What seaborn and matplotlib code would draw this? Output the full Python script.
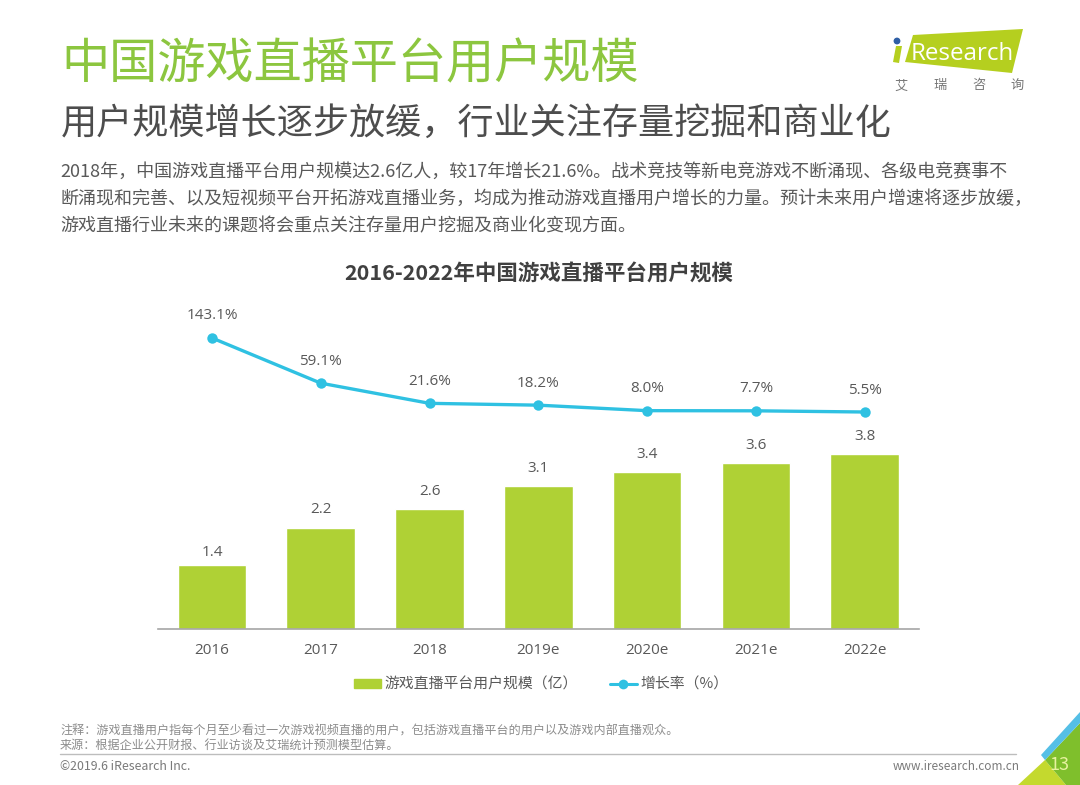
#plot.py

import numpy as np
import pandas as pd
import matplotlib.pyplot as plt
from matplotlib.patches import Polygon, Circle
from matplotlib.lines import Line2D
from matplotlib.patches import Patch
import seaborn as sns

years = ['2016', '2017', '2018', '2019e', '2020e', '2021e', '2022e']
users = [1.4, 2.2, 2.6, 3.1, 3.4, 3.6, 3.8]
growth = [143.1, 59.1, 21.6, 18.2, 8.0, 7.7, 5.5]

page_title = '中国游戏直播平台用户规模'
page_subtitle = '用户规模增长逐步放缓，行业关注存量挖掘和商业化'
body_lines = [
    '2018年，中国游戏直播平台用户规模达2.6亿人，较17年增长21.6%。战术竞技等新电竞游戏不断涌现、各级电竞赛事不',
    '断涌现和完善、以及短视频平台开拓游戏直播业务，均成为推动游戏直播用户增长的力量。预计未来用户增速将逐步放缓，',
    '游戏直播行业未来的课题将会重点关注存量用户挖掘及商业化变现方面。',
]
chart_title = '2016-2022年中国游戏直播平台用户规模'
bar_name = '游戏直播平台用户规模（亿）'
line_name = '增长率（%）'
note_lines = [
    '注释：游戏直播用户指每个月至少看过一次游戏视频直播的用户，包括游戏直播平台的用户以及游戏内部直播观众。',
    '来源：根据企业公开财报、行业访谈及艾瑞统计预测模型估算。',
]

GREEN = '#afd135'
BLUE = '#2fc1e2'
GREY = '#595959'
W, H = 1080, 785
NUM_FONT = ['Open Sans', 'Noto Sans CJK SC']

sns.set_theme(style='white')
plt.rcParams['font.family'] = ['Noto Sans CJK SC', 'DejaVu Sans']

fig = plt.figure(figsize=(W / 100, H / 100), dpi=100, facecolor='white')

#page layer in pixel coordinates, for the slide furniture
page = fig.add_axes([0, 0, 1, 1])
page.set_xlim(0, W)
page.set_ylim(H, 0)
page.axis('off')

page.text(61, 65, page_title, fontsize=34.7, color='#8cc63f', va='center')
page.text(61, 124, page_subtitle, fontsize=26, color='#4d4d4d', va='center')
for y, line in zip([172, 199, 226], body_lines):
    page.text(60, y, line, fontsize=13, color=GREY, va='center')
page.text(539, 274, chart_title, fontsize=15.5, color='#404040', weight='bold', ha='center', va='center')

#logo
page.add_patch(Polygon([(913, 35), (1023, 29), (1012, 73), (905, 62)], color='#b5cf1f', lw=0))
page.add_patch(Polygon([(896, 46), (902, 46), (899, 63), (893, 62)], color='#b5cf1f', lw=0))
page.add_patch(Circle((897, 41), 3.4, color='#2f5fa5', lw=0))
page.text(911, 54, 'Research', fontsize=17.4, color='white', va='center', family=['Open Sans', 'DejaVu Sans'])
for x, ch in zip([901, 940, 979, 1017], '艾瑞咨询'):
    page.text(x, 86, ch, fontsize=9.5, color='#777777', ha='center', va='center')

#footer
for y, line in zip([731, 746], note_lines):
    page.text(60, y, line, fontsize=8.7, color='#8c8c8c', va='center')
page.plot([60, 1016], [754, 754], color='#bdbdbd', lw=1)
page.text(60, 766, '©2019.6 iResearch Inc.', fontsize=8.9, color='#7a7a7a', va='center')
page.text(1020, 766, 'www.iresearch.com.cn', fontsize=8.5, color='#7a7a7a', ha='right', va='center')

#corner decoration
page.add_patch(Polygon([(1018, 785), (1045, 760), (1066, 785)], color='#c4d92e', lw=0))
page.add_patch(Polygon([(1045, 760), (1080, 723), (1080, 785), (1066, 785)], color='#7fbf2c', lw=0))
page.add_patch(Polygon([(1041, 755), (1080, 712), (1080, 723), (1045, 760)], color='#55bfe6', lw=0))
page.text(1059, 765, '13', fontsize=13, color='#e8f2a0', ha='center', va='center')

#chart axes, placed so the baseline and the bars land on the picture
left, right, top, bottom = 157.6, 919.0, 300.0, 629.0
ax = fig.add_axes([left / W, 1 - bottom / H, (right - left) / W, (bottom - top) / H])
ax.patch.set_alpha(0)

df = pd.DataFrame({'year': years, 'users': users, 'growth': growth})
sns.barplot(data=df, x='year', y='users', color=GREEN, saturation=1, width=0.63, ax=ax)
ax.set_xlim(-0.5, 6.5)
ax.set_ylim(0, (bottom - top) / 46.05)
ax.set_xlabel('')
ax.set_ylabel('')
ax.set_yticks([])
ax.tick_params(axis='x', length=0, labelsize=11, labelcolor=GREY, pad=10)
for lab in ax.get_xticklabels():
    lab.set_family(NUM_FONT)
sns.despine(ax=ax, left=True)
ax.spines['bottom'].set_color('#a6a6a6')
ax.spines['bottom'].set_linewidth(1.2)

#gap between bar top and its label, in pixels
bar_label_gaps = [12, 18, 17.5, 18, 18, 17.5, 17.5]
for i, v in enumerate(users):
    ax.annotate(f'{v:.1f}', (i, v), xytext=(0, bar_label_gaps[i] * 0.72), textcoords='offset points',
                ha='center', va='center', fontsize=11, color=GREY, family=NUM_FONT)

#growth rate on its own scale above the bars
ax2 = ax.twinx()
ax2.patch.set_alpha(0)
sns.lineplot(x=np.arange(len(years)), y=growth, color=BLUE, lw=2.4, marker='o', markersize=7.5,
             markeredgewidth=0, ax=ax2, legend=False)
px_per_pct = 0.538
ax2.set_ylim(5.5 - (bottom - 412) / px_per_pct, 5.5 + (412 - top) / px_per_pct)
ax2.set_yticks([])
ax2.set_ylabel('')
sns.despine(ax=ax2, left=True, right=True, bottom=True)

for i, v in enumerate(growth):
    ax2.annotate(f'{v:.1f}%', (i, v), xytext=(0, 22 * 0.72), textcoords='offset points',
                 ha='center', va='center', fontsize=11, color=GREY, family=NUM_FONT)

handles = [
    Patch(color=GREEN, label=bar_name),
    Line2D([], [], color=BLUE, lw=2.2, marker='o', markersize=7, markeredgewidth=0, label=line_name),
]
fig.legend(handles=handles, ncol=2, frameon=False, loc='center', bbox_to_anchor=(541 / W, 1 - 685 / H),
           fontsize=10.7, labelcolor=GREY, handlelength=1.85, handleheight=0.55, handletextpad=0.2,
           columnspacing=2.15)

fig.savefig('out.png', dpi=100)
